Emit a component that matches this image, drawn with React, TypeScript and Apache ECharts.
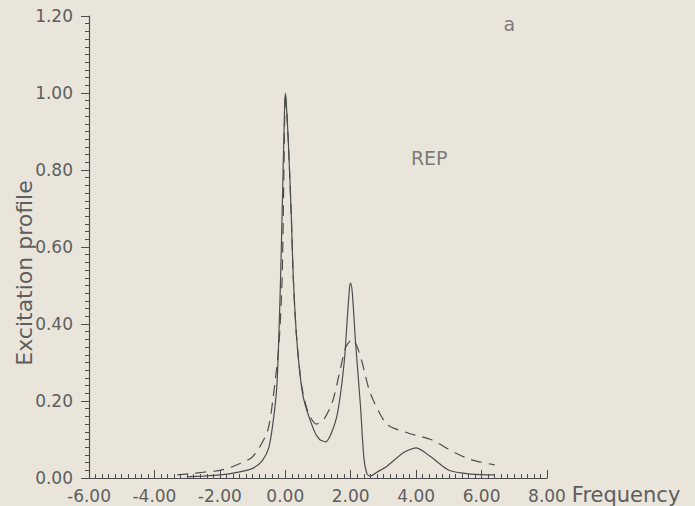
import React, { useEffect, useRef } from "react";
import * as echarts from "echarts";

// Frequency / excitation profile points
const solidCurve: [number, number][] = [
  [-3.0, 0.003], [-2.5, 0.005], [-2.0, 0.008], [-1.5, 0.014], [-1.0, 0.025],
  [-0.7, 0.045], [-0.5, 0.08], [-0.35, 0.16], [-0.25, 0.25], [-0.15, 0.5],
  [-0.08, 0.75], [-0.03, 0.93], [0.0, 1.0], [0.04, 0.96], [0.1, 0.86],
  [0.18, 0.69], [0.25, 0.51], [0.37, 0.34], [0.55, 0.21], [0.87, 0.125],
  [1.05, 0.1], [1.23, 0.094], [1.4, 0.115], [1.6, 0.17], [1.8, 0.3],
  [1.9, 0.42], [1.97, 0.5], [2.0, 0.506], [2.05, 0.48], [2.15, 0.35],
  [2.3, 0.185], [2.4, 0.055], [2.5, 0.01], [2.6, 0.005], [2.8, 0.015],
  [3.1, 0.03], [3.6, 0.065], [4.0, 0.078], [4.45, 0.055], [5.0, 0.02],
  [5.7, 0.01], [6.4, 0.008],
];

const dashedCurve: [number, number][] = [
  [-3.3, 0.008], [-2.5, 0.015], [-2.0, 0.02], [-1.6, 0.03], [-1.0, 0.055],
  [-0.55, 0.12], [-0.37, 0.21], [-0.2, 0.34], [-0.1, 0.51], [-0.05, 0.75],
  [-0.02, 0.93], [0.0, 1.0], [0.04, 0.96], [0.1, 0.86], [0.18, 0.69],
  [0.25, 0.51], [0.35, 0.36], [0.5, 0.24], [0.7, 0.17], [0.95, 0.14],
  [1.2, 0.155], [1.45, 0.2], [1.65, 0.27], [1.85, 0.34], [2.05, 0.36],
  [2.2, 0.34], [2.35, 0.3], [2.6, 0.22], [3.1, 0.14], [3.75, 0.117],
  [4.45, 0.1], [5.2, 0.065], [5.7, 0.047], [6.4, 0.034],
];

const xRange = { min: -6, max: 8, interval: 2 };
const yRange = { min: 0, max: 1.2, interval: 0.2 };

const annotations = [
  { text: "REP", x: 4.4, y: 0.83 },
  { text: "a", x: 6.85, y: 1.18 },
];

const FONT = "DejaVu Sans";
const INK = "#4d4d4d";
const LABEL = "#5e5e5e";
const PAPER = "#e9e5db";

export default function App() {
  const ref = useRef<HTMLDivElement>(null);
  useEffect(() => {
    if (!ref.current) return;
    const chart = echarts.init(ref.current, null, { renderer: "svg" });
    chart.setOption({
      animation: false,
      backgroundColor: PAPER,
      grid: { left: 89, right: 148, top: 16, bottom: 28, containLabel: false },
      graphic: [
        {
          type: "text",
          x: 24,
          y: 273,
          rotation: Math.PI / 2,
          style: {
            text: "Excitation profile",
            fontFamily: FONT,
            fontSize: 22,
            fill: LABEL,
            align: "center",
            verticalAlign: "middle",
          },
        },
      ],
      xAxis: {
        type: "value",
        min: xRange.min,
        max: xRange.max,
        interval: xRange.interval,
        name: "Frequency",
        nameLocation: "end",
        nameGap: 21,
        nameTextStyle: {
          fontFamily: FONT, fontSize: 21, color: LABEL,
          verticalAlign: "top", padding: [6, 0, 0, 0],
        },
        axisLine: { onZero: false, lineStyle: { color: INK, width: 1.2 } },
        axisTick: { inside: true, length: 8, lineStyle: { color: INK } },
        minorTick: { show: true, splitNumber: 10, length: 4, lineStyle: { color: INK } },
        axisLabel: {
          fontFamily: FONT, fontSize: 17, color: LABEL, margin: 9,
          formatter: (v: number) => v.toFixed(2),
        },
        splitLine: { show: false },
      },
      yAxis: {
        type: "value",
        min: yRange.min,
        max: yRange.max,
        interval: yRange.interval,
        axisLine: { show: true, onZero: false, lineStyle: { color: INK, width: 1.2 } },
        axisTick: { show: true, length: 8, lineStyle: { color: INK } },
        minorTick: { show: true, splitNumber: 10, length: 4, lineStyle: { color: INK } },
        axisLabel: {
          fontFamily: FONT, fontSize: 17, color: LABEL, margin: 16,
          formatter: (v: number) => v.toFixed(2),
        },
        splitLine: { show: false },
      },
      series: [
        {
          type: "line",
          data: solidCurve,
          showSymbol: false,
          smooth: 0.25,
          lineStyle: { color: INK, width: 1.2 },
        },
        {
          type: "line",
          data: dashedCurve,
          showSymbol: false,
          smooth: 0.25,
          lineStyle: { color: INK, width: 1.2, type: [11, 7] },
        },
        {
          type: "scatter",
          data: annotations.map((a) => [a.x, a.y]),
          symbolSize: 0,
          silent: true,
          label: {
            show: true,
            position: "inside",
            formatter: (p: any) => annotations[p.dataIndex].text,
            fontFamily: FONT,
            fontSize: 19,
            color: LABEL,
          },
        },
      ],
    });
    return () => chart.dispose();
  }, []);
  return (
    <div
      ref={ref}
      style={{ position: "absolute", left: 0, top: 0, width: 695, height: 506 }}
    />
  );
}
